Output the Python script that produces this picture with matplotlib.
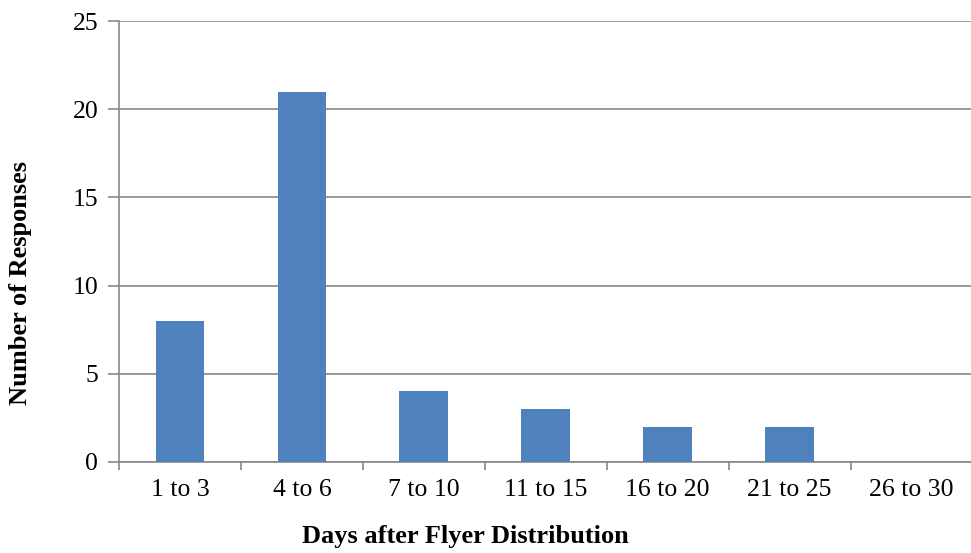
import numpy as np
import matplotlib.pyplot as plt
from matplotlib.ticker import FixedLocator

# ------------------------------------------------------------
# data
# ------------------------------------------------------------
categories = ["1 to 3", "4 to 6", "7 to 10", "11 to 15", "16 to 20", "21 to 25", "26 to 30"]
responses = [8, 21, 4, 3, 2, 2, 0]

plt.rcParams["font.family"] = ["Liberation Serif", "DejaVu Serif"]

fig = plt.figure(figsize=(9.71, 5.53), dpi=100)
ax = fig.add_axes([0.1226, 0.1646, 0.879, 0.7974])

x = np.arange(len(categories))
ax.bar(x, responses, width=0.4, color="#4F81BD", zorder=3)

grey = "#878787"
ax.set_xlim(-0.5, len(categories) - 0.5)
ax.set_ylim(0, 25)
ax.set_yticks(np.arange(0, 26, 5))
ax.yaxis.grid(True, color=grey, linewidth=1.2, zorder=0)

ax.set_xticks(x)
ax.set_xticklabels(categories, fontsize=18.5)
ax.xaxis.set_minor_locator(FixedLocator(np.arange(-0.5, len(categories), 1.0)))
ax.tick_params(axis="x", which="major", length=0, pad=12)
ax.tick_params(axis="x", which="minor", length=6, color=grey, width=1.2)
ax.tick_params(axis="y", labelsize=18.5, length=8, color=grey, width=1.2, pad=7)

for s in ["top", "right"]:
    ax.spines[s].set_visible(False)
for s in ["left", "bottom"]:
    ax.spines[s].set_color(grey)
    ax.spines[s].set_linewidth(1.2)

ax.set_xlabel("Days after Flyer Distribution", fontsize=19, fontweight="bold")
ax.set_ylabel("Number of Responses", fontsize=19, fontweight="bold")
ax.xaxis.set_label_coords(0.406, -0.143)
ax.yaxis.set_label_coords(-0.102, 0.406)

fig.savefig("out.png", dpi=100)
